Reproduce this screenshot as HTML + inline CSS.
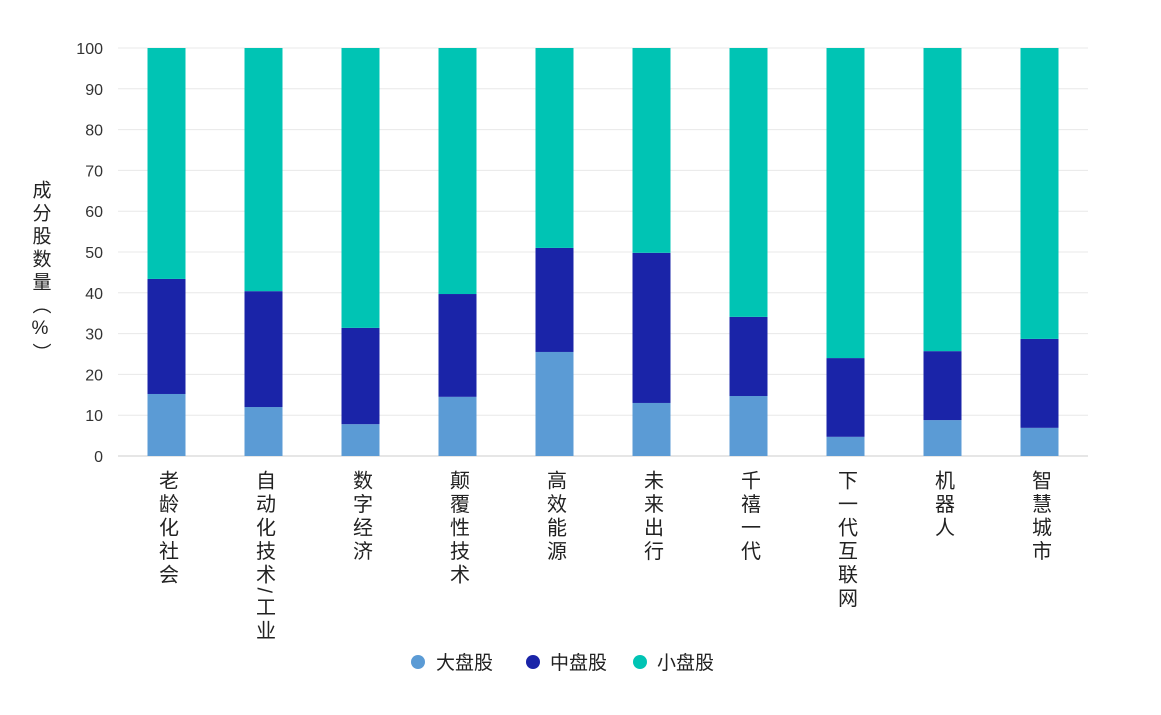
<!DOCTYPE html>
<html><head><meta charset="utf-8"><style>
body{margin:0;background:#fff;width:1161px;height:710px;overflow:hidden;font-family:"Liberation Sans","Noto Sans CJK SC",sans-serif;}
</style></head><body>
<svg id="chart" width="1161" height="710" style="font-family:'Liberation Sans','Noto Sans CJK SC',sans-serif">
<g id="grid"></g><g id="bars"></g><g id="xlabels"></g>
<text x="0" y="0" transform="translate(40,180)" font-size="19" fill="#222" style="writing-mode:vertical-rl;text-orientation:upright;letter-spacing:4px">成分股数量（%）</text>
<g font-size="19" fill="#222">
<g><circle cx="418" cy="662" r="7" fill="#5b9bd5"/><text x="436" y="669">大盘股</text></g>
<g><circle cx="533" cy="662" r="7" fill="#1a24a8"/><text x="550" y="669">中盘股</text></g>
<g><circle cx="640" cy="662" r="7" fill="#00c4b4"/><text x="657" y="669">小盘股</text></g>
</g>
</svg>
<script>
const categories=["老龄化社会","自动化技术/工业","数字经济","颠覆性技术","高效能源","未来出行","千禧一代","下一代互联网","机器人","智慧城市"];
const largeCap=[15.2,12.0,7.8,14.5,25.5,13.0,14.7,4.7,8.8,6.9];
const midCap=[28.2,28.4,23.6,25.2,25.5,36.8,19.4,19.3,16.9,21.8];
const yTicks=[0,10,20,30,40,50,60,70,80,90,100];
const NS="http://www.w3.org/2000/svg";
const x0=118,x1=1088,y0=456,y1=48;
const band=(x1-x0)/categories.length;
const y=v=>y0-(v/100)*(y0-y1);
const xc=i=>x0+band*(i+0.5);
function mk(t,a){const e=document.createElementNS(NS,t);for(const k in a)e.setAttribute(k,a[k]);return e;}
const grid=document.getElementById('grid');
yTicks.forEach(t=>{
 const l=mk('line',{x1:x0,x2:x1,y1:y(t),y2:y(t),stroke:t===0?'#ccc':'#e8e8e8','stroke-width':1});
 
 
 grid.appendChild(l);
 const tx=mk('text',{x:103,y:y(t)+6,'text-anchor':'end','font-size':16,fill:'#333'});
 tx.textContent=t;
 
 
 grid.appendChild(tx);
});
const bars=document.getElementById('bars'),xl=document.getElementById('xlabels');
const bw=38;
categories.forEach((c,i)=>{
 const segs=[[0,largeCap[i],'#5b9bd5','large'],[largeCap[i],largeCap[i]+midCap[i],'#1a24a8','mid'],[largeCap[i]+midCap[i],100,'#00c4b4','small']];
 segs.forEach(s=>{
  const r=mk('rect',{x:xc(i)-bw/2,y:y(s[1]),width:bw,height:y(s[0])-y(s[1]),fill:s[2]});
  
  
  bars.appendChild(r);
 });
 const t=mk('text',{x:xc(i),y:470,'font-size':20,fill:'#222',style:'writing-mode:vertical-rl;text-orientation:mixed;letter-spacing:3.5px'});
 t.textContent=c;
 
 
 xl.appendChild(t);
});
</script>
</body></html>
